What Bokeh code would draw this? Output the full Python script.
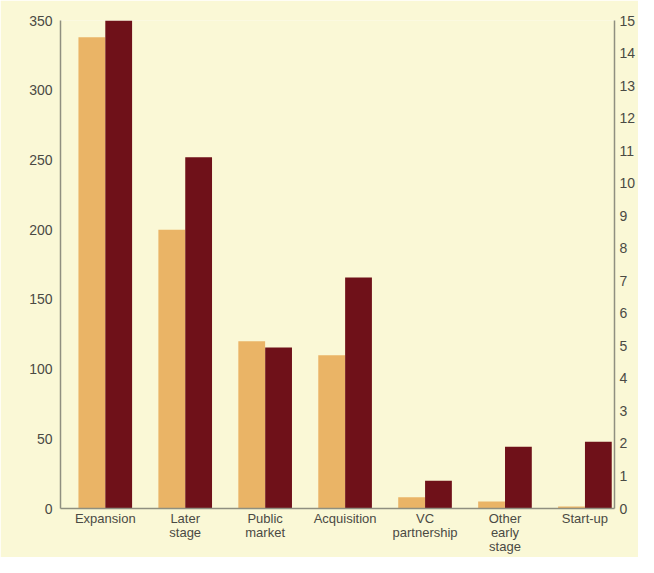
from bokeh.plotting import figure
from bokeh.models import Range1d, LinearAxis, FixedTicker
from bokeh.embed import file_html
from bokeh.resources import INLINE

categories = ["Expansion", "Later\nstage", "Public\nmarket", "Acquisition",
              "VC\npartnership", "Other\nearly\nstage", "Start-up"]
left_values = [338, 200, 120, 110, 8, 5, 1.5]
right_values = [15.0, 10.8, 4.95, 7.1, 0.85, 1.9, 2.05]
left_ticks = [0, 50, 100, 150, 200, 250, 300, 350]
right_ticks = list(range(0, 16))

FONT = "Liberation Sans"
BG = "#faf8d6"
ORANGE = "#eab466"
DARK = "#6f1119"
AXIS = "#8f8f80"
TXT = "#4a4a44"

xs = list(range(len(categories)))
p = figure(width=638, height=557, output_backend="svg", toolbar_location=None,
           x_range=Range1d(-0.56, 6.37), y_range=Range1d(0, 350),
           min_border_left=60, min_border_right=21, min_border_top=20,
           min_border_bottom=47)
p.extra_y_ranges = {"right": Range1d(0, 15)}

p.vbar(x=[x - 0.168 for x in xs], top=left_values, width=0.335,
       fill_color=ORANGE, line_color=None)
p.vbar(x=[x + 0.168 for x in xs], top=right_values, width=0.335,
       fill_color=DARK, line_color=None, y_range_name="right")

p.background_fill_color = BG
p.border_fill_color = BG
p.outline_line_color = None
p.grid.visible = False

ra = LinearAxis(y_range_name="right", ticker=FixedTicker(ticks=right_ticks))
p.add_layout(ra, "right")

p.yaxis[0].ticker = FixedTicker(ticks=left_ticks)
p.xaxis.ticker = FixedTicker(ticks=xs)
p.xaxis.major_label_overrides = {i: c for i, c in enumerate(categories)}

for ax in p.axis:
    ax.axis_line_color = AXIS
    ax.axis_line_width = 1.5
    ax.major_tick_line_color = None
    ax.minor_tick_line_color = None
    ax.major_tick_out = 0
    ax.major_tick_in = 0
    ax.major_label_text_font = FONT
    ax.major_label_text_color = TXT
    ax.major_label_text_font_size = "14px"
    ax.major_label_text_line_height = 1.0

p.yaxis[0].major_label_standoff = 8
ra.major_label_standoff = 5
p.xaxis.major_label_standoff = 2
p.xaxis.major_label_text_font_size = "13px"
p.xaxis.major_label_text_line_height = 0.95

open("out.html", "w").write(file_html(p, INLINE))
